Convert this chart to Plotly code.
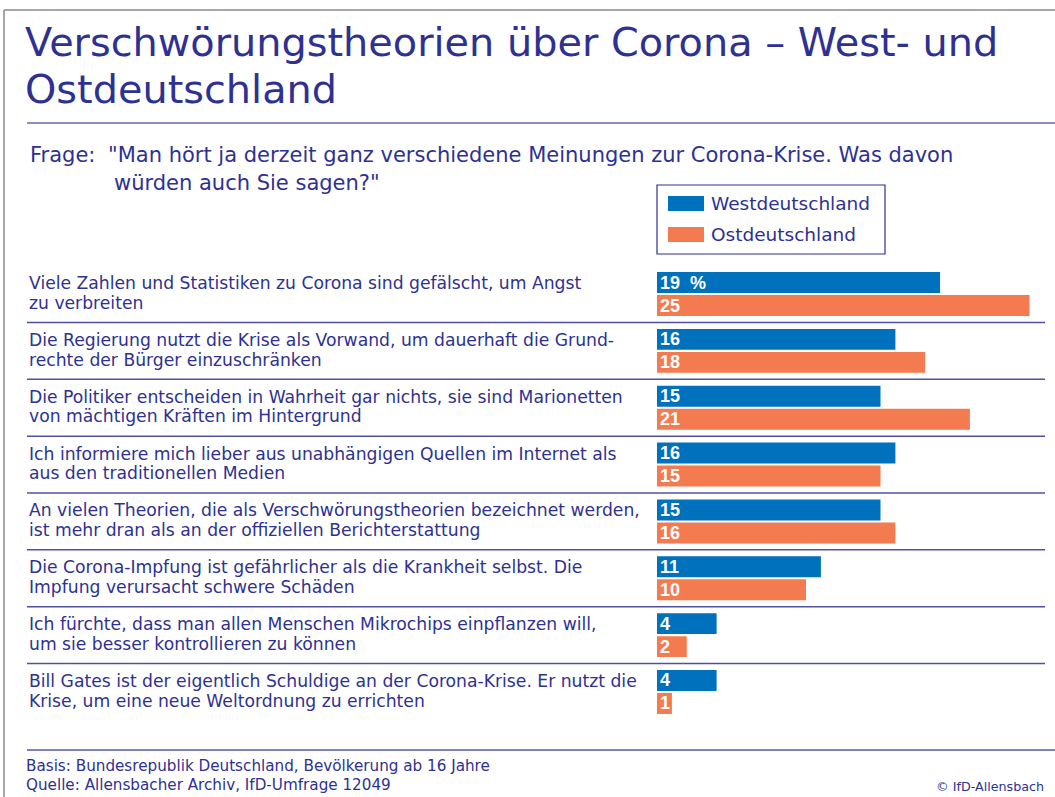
import plotly.graph_objects as go

W, H = 1055, 797

categories = [
    "Viele Zahlen und Statistiken zu Corona sind gefälscht, um Angst<br>zu verbreiten",
    "Die Regierung nutzt die Krise als Vorwand, um dauerhaft die Grund-<br>rechte der Bürger einzuschränken",
    "Die Politiker entscheiden in Wahrheit gar nichts, sie sind Marionetten<br>von mächtigen Kräften im Hintergrund",
    "Ich informiere mich lieber aus unabhängigen Quellen im Internet als<br>aus den traditionellen Medien",
    "An vielen Theorien, die als Verschwörungstheorien bezeichnet werden,<br>ist mehr dran als an der offiziellen Berichterstattung",
    "Die Corona-Impfung ist gefährlicher als die Krankheit selbst. Die<br>Impfung verursacht schwere Schäden",
    "Ich fürchte, dass man allen Menschen Mikrochips einpflanzen will,<br>um sie besser kontrollieren zu können",
    "Bill Gates ist der eigentlich Schuldige an der Corona-Krise. Er nutzt die<br>Krise, um eine neue Weltordnung zu errichten",
]
west = [19, 16, 15, 16, 15, 11, 4, 4]
ost = [25, 18, 21, 15, 16, 10, 2, 1]
series_names = ["Westdeutschland", "Ostdeutschland"]

title_lines = ["Verschwörungstheorien über Corona – West- und", "Ostdeutschland"]
frage_label = "Frage:"
frage_lines = ['"Man hört ja derzeit ganz verschiedene Meinungen zur Corona-Krise. Was davon',
               'würden auch Sie sagen?"']
footer_lines = ["Basis: Bundesrepublik Deutschland, Bevölkerung ab 16 Jahre",
                "Quelle: Allensbacher Archiv, IfD-Umfrage 12049"]
copyright_text = "© IfD-Allensbach"

NAVY = "#2e3192"
BLUE = "#0071bc"
ORANGE = "#f47b4f"
FONT = "DejaVu Sans"
BOLD = "Liberation Sans"


def px(x):
    return x / W


def py(y):
    return 1 - y / H


idx = list(range(len(categories)))

west_text = [str(v) for v in west]
west_text[0] = west_text[0] + "\u00a0\u00a0%"
ost_text = [str(v) for v in ost]

bar_font = dict(color="white", size=18, family=BOLD, weight="bold")
fig = go.Figure()
fig.add_trace(go.Bar(
    y=idx, x=west, orientation="h", name=series_names[0],
    marker=dict(color=BLUE, line=dict(width=0)),
    text=west_text, textposition="inside", insidetextanchor="start", textangle=0,
    textfont=bar_font, insidetextfont=bar_font, constraintext="none",
    hoverinfo="skip", showlegend=False,
))
fig.add_trace(go.Bar(
    y=idx, x=ost, orientation="h", name=series_names[1],
    marker=dict(color=ORANGE, line=dict(width=0)),
    text=ost_text, textposition="inside", insidetextanchor="start", textangle=0,
    textfont=bar_font, insidetextfont=bar_font, constraintext="none",
    hoverinfo="skip", showlegend=False,
))

row_top, row_bottom = 265.6, 720.4
row_px = (row_bottom - row_top) / len(categories)
x0_px, unit_px = 657, 14.9

fig.update_layout(
    width=W, height=H, margin=dict(l=0, r=0, t=0, b=0),
    paper_bgcolor="white", plot_bgcolor="white",
    barmode="group", bargap=0.191, bargroupgap=0.087,
    uniformtext=dict(minsize=18, mode="show"),
    xaxis=dict(domain=[px(x0_px), 1], range=[0, (W - x0_px) / unit_px],
               visible=False, fixedrange=True),
    yaxis=dict(domain=[py(row_bottom), py(row_top)], range=[len(categories) - 0.5, -0.5],
               visible=False, fixedrange=True),
    showlegend=False,
)

shapes = []
# outer frame
shapes.append(dict(type="line", xref="paper", yref="paper", x0=px(4), x1=px(4), y0=py(10), y1=0,
                   line=dict(color="#a6a6a6", width=2)))
shapes.append(dict(type="line", xref="paper", yref="paper", x0=px(4), x1=1, y0=py(10), y1=py(10),
                   line=dict(color="#a6a6a6", width=2)))
# title rule
shapes.append(dict(type="line", xref="paper", yref="paper", x0=px(27), x1=1, y0=py(123), y1=py(123),
                   line=dict(color="#8c8cc6", width=2)))
# row separators
for i in range(len(categories) - 1):
    shapes.append(dict(type="line", xref="paper", yref="y", x0=px(27), x1=px(1045),
                       y0=i + 0.5, y1=i + 0.5, line=dict(color="#5050a2", width=1.5)))
# bottom rule
shapes.append(dict(type="line", xref="paper", yref="paper", x0=px(27), x1=1, y0=py(750), y1=py(750),
                   line=dict(color="#8080bc", width=2)))
# legend box
shapes.append(dict(type="rect", xref="paper", yref="paper", x0=px(657), x1=px(885), y0=py(185), y1=py(254),
                   line=dict(color=NAVY, width=1.2), fillcolor="rgba(0,0,0,0)"))
shapes.append(dict(type="rect", xref="paper", yref="paper", x0=px(668), x1=px(704), y0=py(196), y1=py(211),
                   line=dict(width=0), fillcolor=BLUE))
shapes.append(dict(type="rect", xref="paper", yref="paper", x0=px(668), x1=px(704), y0=py(227), y1=py(242),
                   line=dict(width=0), fillcolor=ORANGE))

ann = []


def text(x, y, s, size, xanchor="left", yref="paper", family=FONT):
    ann.append(dict(x=px(x), y=(py(y) if yref == "paper" else y), xref="paper", yref=yref,
                    text=s, showarrow=False, xanchor=xanchor, yanchor="middle", align="left",
                    font=dict(family=family, size=size, color=NAVY)))


text(23, 42, title_lines[0], 39.8)
text(23, 89, title_lines[1], 39.8)
text(28, 155, frage_label, 21)
text(106, 155, frage_lines[0], 21)
text(112, 183, frage_lines[1], 21)
text(709, 203, series_names[0], 18.5)
text(709, 234, series_names[1], 18.5)
half_gap = 9.8 / row_px
for i, c in enumerate(categories):
    l1, l2 = c.split("<br>")
    text(27, i - half_gap - 0.02, l1, 17.2, yref="y")
    text(27, i + half_gap - 0.02, l2, 17.2, yref="y")
text(24, 766, footer_lines[0], 15.2)
text(24, 785, footer_lines[1], 15.2)
text(1046, 786, copyright_text, 12.7, xanchor="right")

fig.update_layout(shapes=shapes, annotations=ann)

fig.write_html("out.html", config={"displayModeBar": False, "staticPlot": True},
               post_script="document.body.style.margin='0';document.body.style.overflow='hidden';")
